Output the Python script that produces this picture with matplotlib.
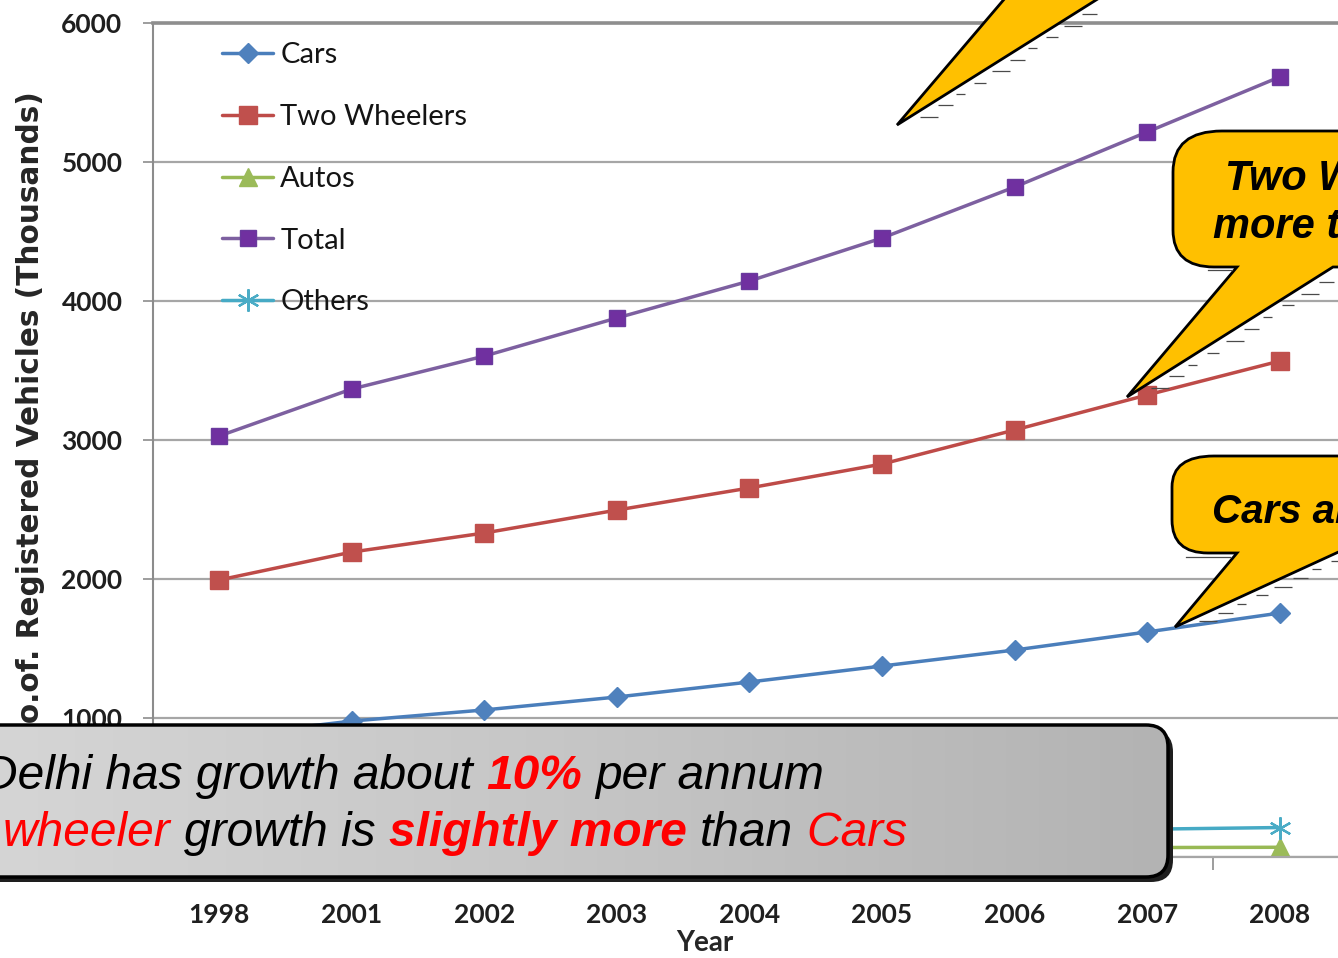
import matplotlib
matplotlib.use("Agg")
import matplotlib.pyplot as plt
import numpy as np
from matplotlib.path import Path
from matplotlib.patches import PathPatch, FancyBboxPatch
from matplotlib.colors import LinearSegmentedColormap

# ---- data (thousands of registered vehicles, Delhi) ----
years = ["1998", "2001", "2002", "2003", "2004", "2005", "2006", "2007", "2008"]
cars = [866, 978, 1058, 1151, 1259, 1374, 1489, 1619, 1755]
two_wheelers = [1993, 2194, 2331, 2496, 2655, 2827, 3072, 3324, 3568]
autos = [55, 57, 58, 60, 62, 64, 66, 68, 70]
total = [3029, 3367, 3604, 3878, 4144, 4453, 4820, 5216, 5612]
others = [115, 138, 157, 171, 168, 188, 193, 200, 212]

y_ticks = [0, 1000, 2000, 3000, 4000, 5000, 6000]

W, H, DPI = 1338, 958, 100
CHART_FONT = ["Lato", "DejaVu Sans"]
LABEL_FONT = ["DejaVu Sans"]
NOTE_FONT = ["Liberation Sans", "DejaVu Sans"]

fig = plt.figure(figsize=(W / DPI, H / DPI), dpi=DPI)
fig.patch.set_facecolor("white")

# ---- line chart ----
ax = fig.add_axes([153 / W, (H - 857) / H, (1346 - 153) / W, (857 - 23) / H])
x = np.arange(len(years))

series = [
    ("Cars", cars, dict(color="#4A7EBB", marker="D", ms=10, mfc="#4F81BD", mec="#4F81BD")),
    ("Two Wheelers", two_wheelers, dict(color="#BE4B48", marker="s", ms=13, mfc="#C0504D", mec="#C0504D")),
    ("Autos", autos, dict(color="#98B954", marker="^", ms=13, mfc="#9BBB59", mec="#9BBB59")),
    ("Total", total, dict(color="#7D60A0", marker="s", ms=12, mfc="#7030A0", mec="#6A3A9E")),
    ("Others", others, dict(color="#46AAC5", marker=(6, 2, 0), ms=16, mfc="#4BACC6", mec="#4BACC6", mew=1.6)),
]
for name, vals, style in series:
    ax.plot(x, vals, lw=2.5, label=name, solid_capstyle="round", **style)

ax.set_xlim(-0.5, len(years) - 0.5)
ax.set_ylim(y_ticks[0], y_ticks[-1])
ax.set_yticks(y_ticks)
ax.set_yticklabels([str(v) for v in y_ticks])
ax.set_xticks(x)
ax.set_xticklabels(years)
ax.set_xticks(np.arange(-0.5, len(years)), minor=True)
ax.yaxis.grid(True, color="#A6A6A6", lw=1.6)
ax.set_axisbelow(True)

ax.spines["right"].set_visible(False)
ax.spines["left"].set_color("#8C8C8C")
ax.spines["left"].set_linewidth(1.5)
ax.spines["top"].set_color("#8E8E8E")
ax.spines["top"].set_linewidth(2.6)
ax.spines["bottom"].set_color("#A6A6A6")
ax.spines["bottom"].set_linewidth(1.6)

ax.tick_params(axis="y", which="major", direction="out", length=7, width=1.2,
               color="#8C8C8C", pad=15, labelsize=19, labelcolor="#1F1F1F")
ax.tick_params(axis="x", which="major", length=0, pad=33, labelsize=19, labelcolor="#1F1F1F")
ax.tick_params(axis="x", which="minor", direction="out", length=9, width=1.2, color="#8C8C8C")
for lab in ax.get_yticklabels() + ax.get_xticklabels():
    lab.set_family(CHART_FONT)
    lab.set_fontweight("bold")

leg = ax.legend(loc="upper left", bbox_to_anchor=(222 / W, 1 - 42 / H),
                bbox_transform=fig.transFigure, frameon=False, borderaxespad=0,
                borderpad=0, handlelength=1.75, handletextpad=0.25, labelspacing=1.23,
                prop=dict(family=CHART_FONT, size=21))
for t in leg.get_texts():
    t.set_color("#141414")

fig.text(31 / W, 1 - 420 / H, "No.of. Registered Vehicles (Thousands)", rotation=90,
         ha="center", va="center", family=LABEL_FONT, fontweight="bold", fontsize=21.3,
         color="#262626")
fig.text(705 / W, 1 - 943 / H, "Year", ha="center", va="center", family=CHART_FONT,
         fontweight="bold", fontsize=20, color="#262626")

# ---- overlay in pixel units for callouts and the note box ----
ov = fig.add_axes([0, 0, 1, 1], zorder=5)
ov.set_xlim(0, W)
ov.set_ylim(H, 0)
ov.axis("off")
ov.patch.set_alpha(0)

YELLOW = "#FFC000"


def shape(points, closed=True):
    """Build a path from a list of ('M'|'L'|'Q', pts) instructions."""
    verts, codes = [], []
    for kind, pts in points:
        if kind == "M":
            verts.append(pts); codes.append(Path.MOVETO)
        elif kind == "L":
            verts.append(pts); codes.append(Path.LINETO)
        elif kind == "Q":
            verts.extend(pts); codes.extend([Path.CURVE3, Path.CURVE3])
    if closed:
        verts.append(verts[0]); codes.append(Path.CLOSEPOLY)
    return Path(verts, codes)


def dashes(p0, p1, n, offset=5, lengths=(12, 18, 15, 9)):
    # short shadow strokes along the outer edge of a pointer
    for i in range(1, n + 1):
        f = i / (n + 1)
        xx = p0[0] + (p1[0] - p0[0]) * f
        yy = p0[1] + (p1[1] - p0[1]) * f
        L = lengths[i % len(lengths)]
        ov.plot([xx + offset, xx + offset + L], [yy + 3, yy + 3], color="#4A4A4A", lw=0.9,
                solid_capstyle="butt")


# callout pointing at the Total line (its box lies above the visible area)
c1 = shape([("M", (897, 125)), ("L", (1012, -10)), ("L", (1112, -10))])
ov.add_patch(PathPatch(c1, fc=YELLOW, ec="black", lw=2))
dashes((897, 125), (1095, 0), 10)

# callout pointing at the Two Wheelers line
c2 = shape([
    ("M", (1237, 267)), ("L", (1127, 397)), ("L", (1333, 267)), ("L", (1420, 267)),
    ("L", (1420, 131)), ("L", (1222, 131)), ("Q", [(1173, 131), (1173, 172)]),
    ("L", (1173, 230)), ("Q", [(1173, 267), (1214, 267)]),
])
ov.add_patch(PathPatch(c2, fc=YELLOW, ec="black", lw=2))
dashes((1127, 397), (1333, 267), 10)
ov.plot([1208, 1232], [270, 270], color="#4A4A4A", lw=0.9)

# callout pointing at the Cars line
c3 = shape([
    ("M", (1237, 553)), ("L", (1175, 627)), ("L", (1345, 549)), ("L", (1420, 549)),
    ("L", (1420, 456)), ("L", (1214, 456)), ("Q", [(1172, 456), (1172, 487)]),
    ("L", (1172, 520)), ("Q", [(1172, 553), (1208, 553)]),
])
ov.add_patch(PathPatch(c3, fc=YELLOW, ec="black", lw=2))
dashes((1175, 627), (1345, 549), 8)
ov.plot([1186, 1230], [557, 557], color="#4A4A4A", lw=0.9)

call_kw = dict(family=NOTE_FONT, fontweight="bold", fontstyle="italic", color="black",
               ha="left", va="baseline")
ov.text(1225, 190, "Two Wheelers", fontsize=30, **call_kw)
ov.text(1213, 238, "more than", fontsize=30, **call_kw)
ov.text(1212, 523, "Cars are", fontsize=29, **call_kw)

# ---- grey note box with gradient fill ----
bx0, by0, bw, bh = -40, 725, 1208, 152
shadow = FancyBboxPatch((bx0 + 5, by0 + 5), bw, bh, boxstyle="round,pad=0,rounding_size=22",
                        fc="#1E1E1E", ec="none")
ov.add_patch(shadow)
clip_box = FancyBboxPatch((bx0, by0), bw, bh, boxstyle="round,pad=0,rounding_size=22",
                          fc="none", ec="none", transform=ov.transData)
ov.add_patch(clip_box)
grey = LinearSegmentedColormap.from_list("greyfade", ["#D6D6D6", "#C6C6C6", "#B3B3B3"])
grad = np.linspace(0, 1, 256).reshape(1, -1)
im = ov.imshow(grad, cmap=grey, extent=(bx0, bx0 + bw, by0 + bh, by0), aspect="auto",
               interpolation="bilinear", zorder=2)
im.set_clip_path(clip_box)
ov.add_patch(FancyBboxPatch((bx0, by0), bw, bh, boxstyle="round,pad=0,rounding_size=22",
                            fc="none", ec="black", lw=2.5, zorder=3))
ov.set_xlim(0, W)
ov.set_ylim(H, 0)

NOTE_SIZE = 34.5
space_px = 0.278 * NOTE_SIZE * DPI / 72
renderer = fig.canvas.get_renderer()


def measure(s, weight):
    t = ov.text(0, 0, s, family=NOTE_FONT, fontsize=NOTE_SIZE, fontstyle="italic",
                fontweight=weight)
    w = t.get_window_extent(renderer=renderer).width
    t.remove()
    return w


def note_line(pieces, anchor_index, anchor_x, baseline):
    # lay out coloured words so that the piece at anchor_index starts at anchor_x
    widths = [measure(s, wt) for s, c, wt in pieces]
    start = anchor_x - sum(widths[:anchor_index]) - space_px * anchor_index
    xx = start
    for (s, c, wt), w in zip(pieces, widths):
        ov.text(xx, baseline, s, family=NOTE_FONT, fontsize=NOTE_SIZE, fontstyle="italic",
                fontweight=wt, color=c, ha="left", va="baseline", zorder=4)
        xx += w + space_px


RED = "#FF0000"
note_line([("Delhi has growth about", "black", "normal"), ("10%", RED, "bold"),
           ("per annum", "black", "normal")], 1, 486, 789)
note_line([("Two", RED, "normal"), ("wheeler", RED, "normal"), ("growth is", "black", "normal"),
           ("slightly more", RED, "bold"), ("than", "black", "normal"), ("Cars", RED, "normal")],
          1, 3, 846)

fig.savefig("out.png", dpi=DPI)
